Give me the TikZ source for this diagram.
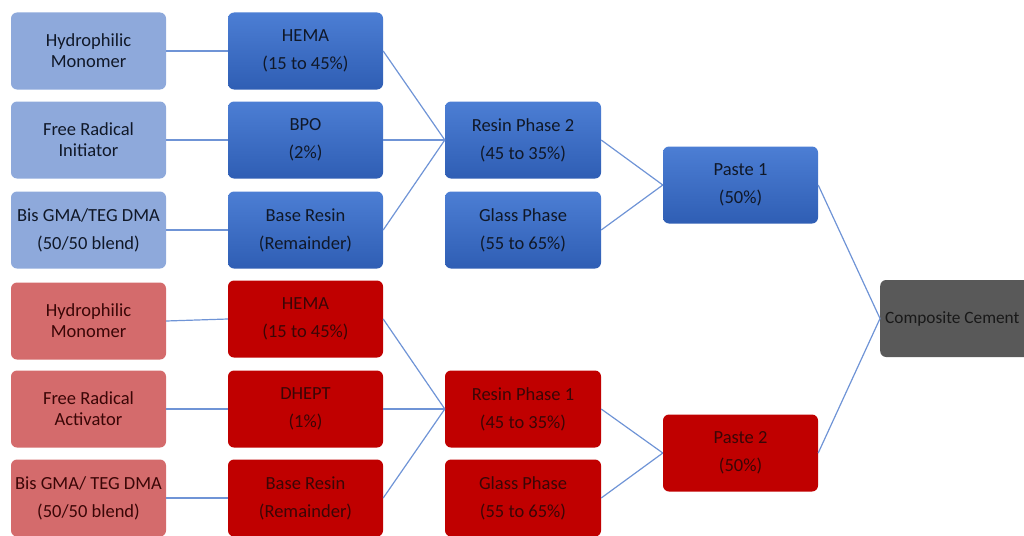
\documentclass[tikz,border=0pt]{standalone}
\usepackage{fontspec}
\setmainfont{Carlito}
\definecolor{lblue}{HTML}{8EA9DB}
\definecolor{btop}{HTML}{4C7ED4}
\definecolor{bbot}{HTML}{2F5EB4}
\definecolor{lred}{HTML}{D46B6C}
\definecolor{dred}{HTML}{C00000}
\definecolor{dgray}{HTML}{595959}
\definecolor{wire}{HTML}{6F94D6}
\definecolor{btext}{HTML}{101828}
\definecolor{rtext}{HTML}{3A0606}
\begin{document}
\begin{tikzpicture}[x=1pt,y=-1pt,
  box/.style={rounded corners=6pt, minimum width=155pt, minimum height=77pt, inner sep=0pt, align=center, font=\fontsize{18.5}{21}\selectfont},
  tall/.style={font=\fontsize{18.5}{28}\selectfont},
  lb/.style={box, fill=lblue, text=btext},
  bb/.style={box, tall, top color=btop, bottom color=bbot, text=btext},
  lr/.style={box, fill=lred, text=rtext},
  dr/.style={box, tall, fill=dred, text=rtext},
  wirel/.style={draw=wire, line width=1.2pt}]
\useasboundingbox (0,0) rectangle (1024,535);
\begin{scope}
\clip (0,0) rectangle (1024,535);
% column 1
\node[lb] (l1) at (88.5,51) {Hydrophilic\\Monomer};
\node[lb] (l2) at (88.5,140) {Free Radical\\Initiator};
\node[lb] (l3) at (88.5,230) {Bis GMA/TEG DMA\\[7pt](50/50 blend)};
\node[lr] (l4) at (88.5,321) {Hydrophilic\\Monomer};
\node[lr] (l5) at (88.5,409) {Free Radical\\Activator};
\node[lr] (l6) at (88.5,498) {Bis GMA/ TEG DMA\\[7pt](50/50 blend)};
% column 2
\node[bb] (m1) at (305.5,51) {HEMA\\(15 to 45\%)};
\node[bb] (m2) at (305.5,140) {BPO\\(2\%)};
\node[bb] (m3) at (305.5,230) {Base Resin\\(Remainder)};
\node[dr] (m4) at (305.5,319) {HEMA\\(15 to 45\%)};
\node[dr] (m5) at (305.5,409) {DHEPT\\(1\%)};
\node[dr] (m6) at (305.5,498) {Base Resin\\(Remainder)};
% column 3
\node[bb, minimum width=156pt] (rp2) at (523,140) {Resin Phase 2\\(45 to 35\%)};
\node[bb, minimum width=156pt] (gp2) at (523,230) {Glass Phase\\(55 to 65\%)};
\node[dr, minimum width=156pt] (rp1) at (523,409) {Resin Phase 1\\(45 to 35\%)};
\node[dr, minimum width=156pt] (gp1) at (523,498) {Glass Phase\\(55 to 65\%)};
% column 4
\node[bb] (p1) at (740.5,185) {Paste 1\\(50\%)};
\node[dr] (p2) at (740.5,453) {Paste 2\\(50\%)};
% composite
\node[box, fill=dgray, text=black!90, anchor=west, minimum width=180pt, text width=175pt, align=flush left, inner xsep=5pt, font=\fontsize{17.3}{21}\selectfont] (cc) at (880,318.5) {Composite Cement};
% connectors
\draw[wirel] (l1.east) -- (m1.west);
\draw[wirel] (l2.east) -- (m2.west);
\draw[wirel] (l3.east) -- (m3.west);
\draw[wirel] (l4.east) -- (m4.west);
\draw[wirel] (l5.east) -- (m5.west);
\draw[wirel] (l6.east) -- (m6.west);
\draw[wirel] (m1.east) -- (rp2.west);
\draw[wirel] (m2.east) -- (rp2.west);
\draw[wirel] (m3.east) -- (rp2.west);
\draw[wirel] (m4.east) -- (rp1.west);
\draw[wirel] (m5.east) -- (rp1.west);
\draw[wirel] (m6.east) -- (rp1.west);
\draw[wirel] (rp2.east) -- (p1.west);
\draw[wirel] (gp2.east) -- (p1.west);
\draw[wirel] (rp1.east) -- (p2.west);
\draw[wirel] (gp1.east) -- (p2.west);
\draw[wirel] (p1.east) -- (cc.west);
\draw[wirel] (p2.east) -- (cc.west);
\end{scope}
\end{tikzpicture}
\end{document}
